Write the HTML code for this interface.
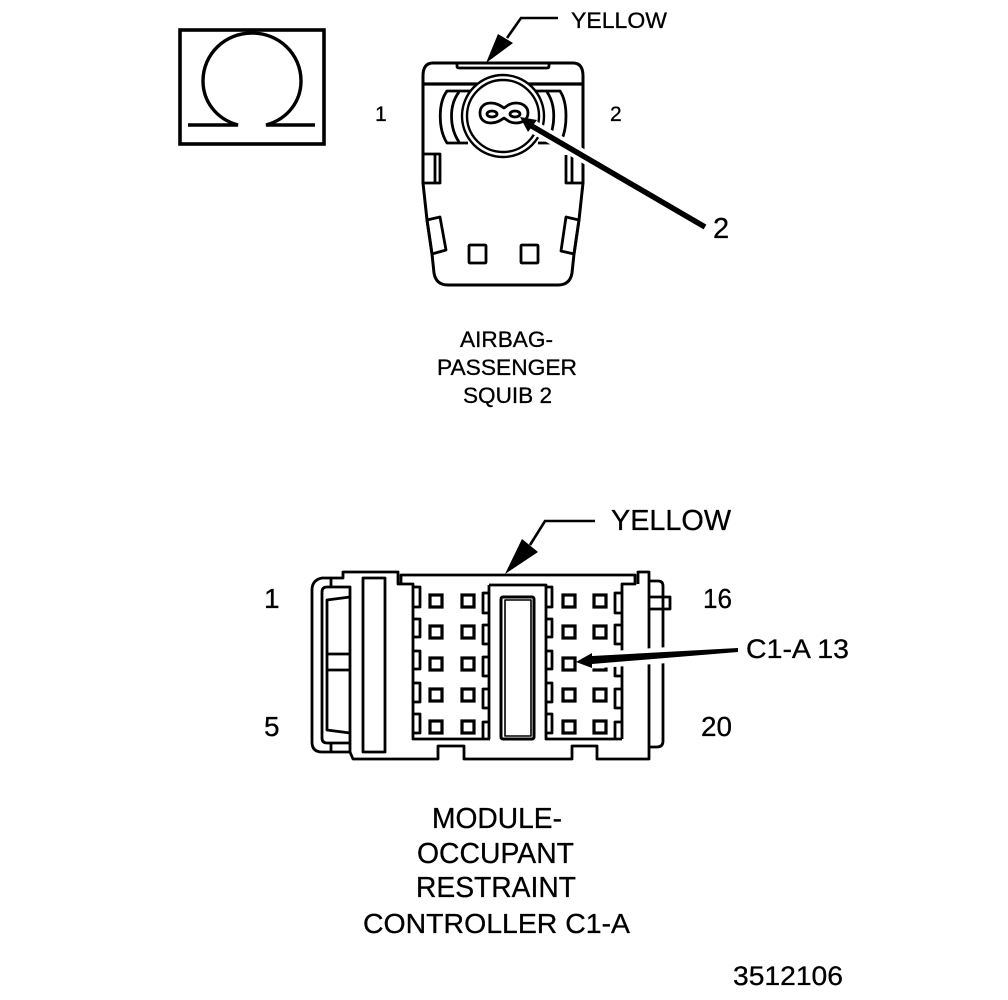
<!DOCTYPE html>
<html>
<head>
<meta charset="utf-8">
<style>
html,body{margin:0;padding:0;background:#fff;width:1008px;height:1000px;overflow:hidden}
svg{display:block}
text{font-family:"Liberation Sans",sans-serif;fill:#000;stroke:#000;stroke-width:.3}
.l{fill:none;stroke:#000;stroke-width:2.8;stroke-linejoin:round}
.t{fill:#fff;stroke:#000;stroke-width:3.2}
</style>
</head>
<body>
<svg width="1008" height="1000" viewBox="0 0 1008 1000" xmlns="http://www.w3.org/2000/svg">
<!-- Omega box -->
<rect x="180" y="30" width="144" height="114" fill="none" stroke="#000" stroke-width="3.6"/>
<path d="M188 125H238C216 119 203 101 203 81C203 54 225 33 252 33C279 33 301 54 301 81C301 101 288 119 266 125H315" fill="none" stroke="#000" stroke-width="3.4"/>

<!-- Squib connector -->
<path class="l" style="stroke-width:3" d="M423 153V76Q423 63 433 63H573Q583 63 583 76V183L579 220L574 254L572 273Q570 285 558 285H448Q436 285 434 273L432 254L427 220L423 183V153"/>
<path class="l" d="M457 63V66Q457 68 459 68H547Q549 68 549 66V63"/>
<path class="l" style="stroke-width:3.2" d="M423 84H583"/>
<path class="l" d="M472 91H447C438 103 438 129 447 143H468"/>
<path class="l" d="M459 92C449 105 449 127 459 142"/>
<path class="l" d="M534 91H560C568 103 568 129 560 143H538"/>
<path class="l" d="M547 92C556 105 556 127 547 142"/>
<circle cx="503" cy="116" r="41" fill="#fff" stroke="#000" stroke-width="2.4"/>
<circle cx="503" cy="116" r="36" fill="none" stroke="#000" stroke-width="2.4"/>
<path class="l" d="M491 103C497 103 501 106 504 108C507 106 510 103 516 103C523 103 528 107 528 113C528 119 523 123 516 123C510 123 507 120 504 118C501 120 497 123 491 123C484 123 480 119 480 113C480 107 484 103 491 103Z"/>
<ellipse cx="492" cy="114" rx="5" ry="3" class="l"/>
<ellipse cx="515" cy="114" rx="5" ry="3" class="l"/>
<path class="l" d="M423 154H440V183H423M435 154V183"/>
<path class="l" d="M566 155V183H583M572 155V183"/>
<path class="l" d="M427 220L440 217L446 250L432 254Z"/>
<path class="l" d="M566 217L579 220L574 254L561 251Z"/>
<rect x="469" y="245" width="17" height="18" rx="1" class="l"/>
<rect x="521" y="245" width="17" height="18" rx="1" class="l"/>

<!-- Squib arrows -->
<path d="M558 18H521L507 38" fill="none" stroke="#000" stroke-width="2.6"/>
<path d="M486 63L498 34L513 43Z" fill="#000"/>
<path d="M705 227L530 125" fill="none" stroke="#fff" stroke-width="13"/>
<path d="M705 227L530 125" fill="none" stroke="#000" stroke-width="5.5"/>
<path d="M520 117L537 120L528 132Z" fill="#000"/>

<!-- Squib text -->
<text x="571" y="28" font-size="22.5" textLength="96" lengthAdjust="spacingAndGlyphs">YELLOW</text>
<text x="375" y="121" font-size="21">1</text>
<text x="610" y="121" font-size="21">2</text>
<text x="713" y="238" font-size="29">2</text>
<text x="460" y="347" font-size="22.5" textLength="93" lengthAdjust="spacingAndGlyphs">AIRBAG-</text>
<text x="437" y="375" font-size="22.5" textLength="140" lengthAdjust="spacingAndGlyphs">PASSENGER</text>
<text x="463" y="403" font-size="22.5" textLength="89" lengthAdjust="spacingAndGlyphs">SQUIB 2</text>

<!-- Module connector outline -->
<path class="l" d="M331 578H343V572H398V584H413V739H490"/>
<path class="l" d="M401 584V575H635V584H622V739"/>
<path class="l" d="M350 752L353 759H438V746H464V759H572V746H597V759H649V572H638V584"/>
<path class="l" d="M331 578H322Q312 580 312 590V742Q312 752 322 752H350"/>
<path class="l" d="M331 578V587H327Q322 587 322 592V738Q322 743 327 743H331V752M331 587H350V752M331 743H350"/>
<path class="l" d="M350 597L327 600V730L350 733M327 654H350M327 670H350"/>
<rect x="363" y="578" width="22" height="174" class="l"/>
<path class="l" d="M489 585H546V739H622"/>
<path class="l" d="M489 585V739"/>
<rect x="501" y="597" width="33" height="142" rx="2" class="l" style="stroke-width:3"/>
<rect x="505" y="600" width="26" height="136" class="l" style="stroke-width:1.6"/>
<path class="l" d="M649 581H658Q663 581 663 586V741Q663 747 657 747H649"/>
<path class="l" d="M650 597H670V609H650"/>

<!-- side tabs -->
<path class="l" d="M413 587H420V607H413M413 619H420V637H413M413 651H420V669H413M413 683H420V702H413M413 714H420V733H413"/>
<path class="l" d="M546 587H552V607H546M546 619H552V637H546M546 651H552V669H546M546 683H552V702H546M546 714H552V733H546"/>
<path class="l" d="M489 593H483V613H489M489 625H483V644H489M489 657H483V676H489M489 689H483V708H489M489 722H483V739"/>
<path class="l" d="M622 593H615V613H622M622 625H615V644H622M622 657H615V676H622M622 689H615V708H622M622 722H615V739"/>

<!-- terminals -->
<rect class="t" x="430" y="595" width="12" height="12"/><rect class="t" x="462" y="595" width="12" height="12"/><rect class="t" x="563" y="595" width="12" height="12"/><rect class="t" x="594" y="595" width="12" height="12"/>
<rect class="t" x="430" y="626" width="12" height="12"/><rect class="t" x="462" y="626" width="12" height="12"/><rect class="t" x="563" y="626" width="12" height="12"/><rect class="t" x="594" y="626" width="12" height="12"/>
<rect class="t" x="430" y="658" width="12" height="12"/><rect class="t" x="462" y="658" width="12" height="12"/><rect class="t" x="563" y="658" width="12" height="12"/><rect class="t" x="594" y="658" width="12" height="12"/>
<rect class="t" x="430" y="689" width="12" height="12"/><rect class="t" x="462" y="689" width="12" height="12"/><rect class="t" x="563" y="689" width="12" height="12"/><rect class="t" x="594" y="689" width="12" height="12"/>
<rect class="t" x="430" y="721" width="12" height="12"/><rect class="t" x="462" y="721" width="12" height="12"/><rect class="t" x="563" y="721" width="12" height="12"/><rect class="t" x="594" y="721" width="12" height="12"/>

<!-- Module arrows -->
<path d="M595 521H545L530 545" fill="none" stroke="#000" stroke-width="2.6"/>
<path d="M505 574L522 539L538 552Z" fill="#000"/>
<path d="M738 650L585 661" fill="none" stroke="#fff" stroke-width="16"/>
<path d="M738 648L738 652L592 664L592 656Z" fill="#000"/>
<path d="M576 662L592 653V668Z" fill="#000"/>

<!-- Module text -->
<text x="611" y="530" font-size="28.5" textLength="120" lengthAdjust="spacingAndGlyphs">YELLOW</text>
<text x="264" y="608" font-size="28">1</text>
<text x="703" y="608" font-size="28" textLength="29" lengthAdjust="spacingAndGlyphs">16</text>
<text x="746" y="658" font-size="27" textLength="103" lengthAdjust="spacingAndGlyphs">C1-A 13</text>
<text x="264" y="736" font-size="28">5</text>
<text x="701" y="736" font-size="28" textLength="31" lengthAdjust="spacingAndGlyphs">20</text>
<text x="432" y="828" font-size="28.5" textLength="130" lengthAdjust="spacingAndGlyphs">MODULE-</text>
<text x="417" y="863" font-size="28.5" textLength="157" lengthAdjust="spacingAndGlyphs">OCCUPANT</text>
<text x="416" y="897" font-size="28.5" textLength="160" lengthAdjust="spacingAndGlyphs">RESTRAINT</text>
<text x="363" y="933" font-size="28" textLength="267" lengthAdjust="spacingAndGlyphs">CONTROLLER C1-A</text>
<text x="733" y="985" font-size="27" textLength="110" lengthAdjust="spacingAndGlyphs">3512106</text>
</svg>
</body>
</html>
